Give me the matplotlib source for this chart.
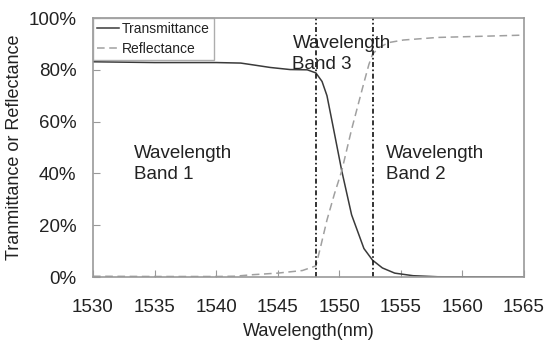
import numpy as np
import matplotlib.pyplot as plt
from matplotlib.ticker import FuncFormatter

plt.rcParams['font.family'] = ['Liberation Sans', 'DejaVu Sans']

# transmittance / reflectance vs wavelength (nm, %)
wl_t = [1530, 1535, 1540, 1542, 1543, 1544.4, 1546, 1547.4, 1548.1, 1548.6,
        1549.0, 1549.5, 1550.2, 1551.0, 1552.0, 1552.7, 1553.5, 1554.5, 1556,
        1558, 1565]
trans = [83.1, 82.8, 82.8, 82.6, 81.9, 80.9, 80.1, 80.0, 78.8, 75.5,
         70.0, 58.0, 41.0, 24.0, 11.0, 6.5, 3.5, 1.5, 0.5,
         0.1, 0.0]

wl_r = [1530, 1535, 1540, 1541.5, 1543, 1545, 1547, 1548.1, 1548.5, 1549.0,
        1549.6, 1550.2, 1551.0, 1551.5, 1552.0, 1552.4, 1552.7, 1553.2, 1554.0,
        1555.2, 1558, 1562, 1565]
refl = [0.3, 0.2, 0.2, 0.3, 0.9, 1.5, 2.5, 4.3, 12.0, 22.0,
        32.0, 41.0, 57.0, 66.0, 75.0, 82.0, 86.0, 88.5, 90.5,
        91.5, 92.5, 93.0, 93.4]

band_edges = [1548.1, 1552.7]

fig = plt.figure(figsize=(5.45, 3.43), dpi=100)
ax = fig.add_axes([0.1706, 0.1924, 0.7909, 0.7551])

ax.plot(wl_t, trans, color='#3a3a3a', lw=1.1, label='Transmittance')
ax.plot(wl_r, refl, color='#a0a0a0', lw=1.1, ls=(0, (5, 3)), label='Reflectance')
for x in band_edges:
    ax.axvline(x, color='#111111', lw=1.2, ls=(0, (3, 1.5, 1, 1.5)))

ax.set_xlim(1530, 1565)
ax.set_ylim(0, 100)
ax.set_xticks(np.arange(1530, 1566, 5))
ax.set_yticks(np.arange(0, 101, 20))
ax.yaxis.set_major_formatter(FuncFormatter(lambda v, p: '%d%%' % v))
ax.tick_params(direction='in', length=5, color='#999999', labelsize=13.5,
               labelcolor='#222222')
ax.tick_params(axis='x', pad=16)
ax.tick_params(axis='y', pad=12)
for s in ax.spines.values():
    s.set_color('#999999')
    s.set_linewidth(1.2)

ax.set_xlabel('Wavelength(nm)', fontsize=13, color='#222222', labelpad=5)
ax.set_ylabel('Tranmittance or Reflectance', fontsize=13, color='#222222', labelpad=4)

txt = dict(fontsize=13.5, color='#222222', va='top', ha='left', linespacing=1.35)
ax.text(1533.3, 51, 'Wavelength\nBand 1', **txt)
ax.text(1546.2, 93.5, 'Wavelength\nBand 3', **txt)
ax.text(1553.8, 51, 'Wavelength\nBand 2', **txt)

leg = ax.legend(loc='upper left', bbox_to_anchor=(0, 1), fontsize=10,
                frameon=True, fancybox=False, borderaxespad=0,
                handlelength=1.6, handletextpad=0.2, borderpad=0.3,
                labelspacing=0.4, labelcolor='#222222')
leg.get_frame().set_edgecolor('#999999')
leg.get_frame().set_linewidth(1.0)

fig.savefig('out.png', dpi=100)
